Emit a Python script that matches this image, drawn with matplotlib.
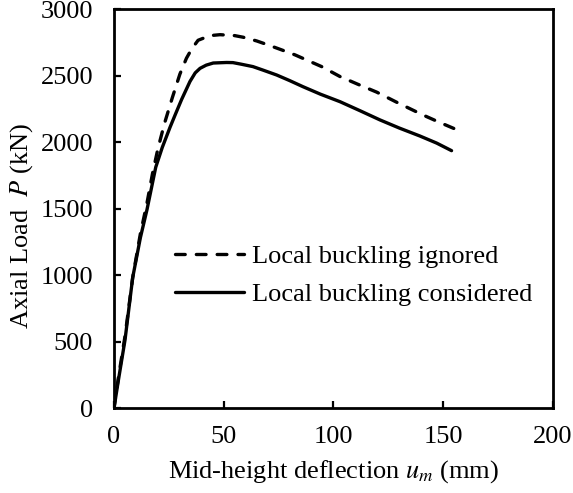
import numpy as np
import matplotlib
matplotlib.use("Agg")
import matplotlib.pyplot as plt

# Load-deflection curves (mm, kN)
defl_ignored = [0, 2, 5, 8.5, 12, 15, 17.5, 20, 23, 26.5, 30, 33, 35.4, 38.3,
                43.7, 48.3, 55, 58.8, 65, 70.2, 76, 82.5, 88, 94.6, 103, 111,
                119.7, 129.4, 140.8, 148, 155.4]
load_ignored = [0, 230, 540, 980, 1310, 1540, 1760, 1950, 2140, 2330, 2510,
                2630, 2700, 2765, 2800, 2807, 2800, 2788, 2760, 2730, 2695,
                2655, 2615, 2567, 2492, 2435, 2375, 2294, 2203, 2150, 2098]

defl_considered = [0, 2, 5, 8.5, 12, 15, 19, 22, 25.5, 28, 30.8, 34.6, 37,
                   39.2, 42, 45.2, 51.3, 54.2, 58, 63.3, 68, 74.1, 80, 86.1,
                   94, 103, 112, 121.2, 130, 139.4, 147, 153.8]
load_considered = [0, 210, 511, 980, 1280, 1490, 1810, 1960, 2110, 2210, 2320,
                   2455, 2520, 2554, 2578, 2594, 2598, 2597, 2585, 2567, 2540,
                   2504, 2462, 2416, 2360, 2303, 2236, 2166, 2105, 2045, 1992,
                   1935]

x_ticks = [0, 50, 100, 150, 200]
y_ticks = [0, 500, 1000, 1500, 2000, 2500, 3000]

plt.rcParams['font.family'] = ['Liberation Serif', 'DejaVu Serif']
plt.rcParams['mathtext.fontset'] = 'stix'

fig = plt.figure(figsize=(5.73, 4.93), dpi=100)
ax = fig.add_axes([0.199, 0.1724, 0.766, 0.8093])

lw = 2.4
ax.plot(defl_ignored, load_ignored, color='black', lw=lw,
        dashes=(7 / lw, 8 / lw), dash_capstyle='round',
        label='Local buckling ignored')
ax.plot(defl_considered, load_considered, color='black', lw=lw,
        solid_capstyle='round', label='Local buckling considered')

ax.set_xlim(0, 200)
ax.set_ylim(0, 3000)
ax.set_xticks(x_ticks)
ax.set_yticks(y_ticks)
ax.tick_params(direction='in', length=5, width=1.6, labelsize=19,
               colors='black')
ax.tick_params(axis='y', pad=15)
ax.tick_params(axis='x', pad=13)
for s in ax.spines.values():
    s.set_linewidth(2)

ax.set_xlabel('Mid-height deflection $u_m$ (mm)', fontsize=19)
ax.set_ylabel('Axial Load  $P$ (kN)', fontsize=19)
ax.xaxis.set_label_coords(0.5, -0.125)
ax.yaxis.set_label_coords(-0.18, 0.455)

ax.legend(loc='upper left', bbox_to_anchor=(0.14, 0.41), frameon=False,
          fontsize=19, handlelength=2.6, handletextpad=0.3, labelspacing=0.55,
          borderaxespad=0, borderpad=0)

fig.savefig('out.png', dpi=100)
